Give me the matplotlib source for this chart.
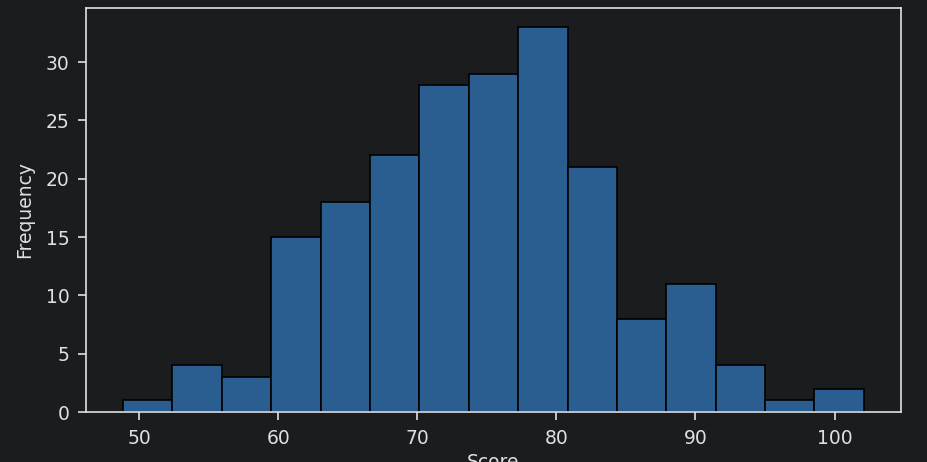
import numpy as np
import matplotlib.pyplot as plt

# histogram bin edges and counts
bin_start = 48.85
bin_end = 102.1
counts = [1, 4, 3, 15, 18, 22, 28, 29, 33, 21, 8, 11, 4, 1, 2]

edges = np.linspace(bin_start, bin_end, len(counts) + 1)

bg = '#1b1c1e'
fg = '#e0e0e0'

fig = plt.figure(figsize=(9.27, 4.62), dpi=100, facecolor=bg)
ax = fig.add_axes([0.0928, 0.108, 0.879, 0.875])
ax.set_facecolor(bg)

ax.hist(edges[:-1], bins=edges, weights=counts, color='#2a5d90',
        edgecolor='black', linewidth=1.2)

ax.set_xlabel('Score', color=fg, fontsize=13.5, labelpad=4)
ax.set_ylabel('Frequency', color=fg, fontsize=13.5, labelpad=8)
ax.tick_params(colors=fg, labelsize=13.5, length=6, width=1.2, pad=6)
for s in ax.spines.values():
    s.set_color(fg)
    s.set_linewidth(1.2)

fig.savefig('out.png', facecolor=bg)
